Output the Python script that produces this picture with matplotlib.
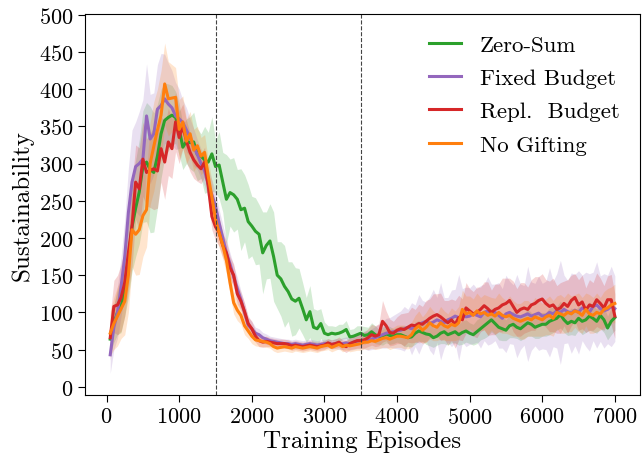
import numpy as np
import matplotlib
matplotlib.use("Agg")
import matplotlib.pyplot as plt

plt.rcParams['font.family'] = 'serif'
plt.rcParams['font.serif'] = ['cmr10', 'DejaVu Serif']
plt.rcParams['axes.formatter.use_mathtext'] = True
plt.rcParams['mathtext.fontset'] = 'cm'

episodes = list(range(50, 7001, 50))

zero_sum = [
    64, 85, 100, 108, 135, 170, 215, 240, 262, 296, 302, 292, 288, 310, 340, 358, 362, 365, 362, 346,
    322, 330, 328, 329, 312, 310, 305, 302, 313, 296, 298, 275, 252, 261, 258, 252, 238, 240, 222, 216,
    209, 205, 180, 190, 196, 175, 150, 145, 135, 128, 118, 115, 119, 105, 90, 101, 80, 78, 85, 72,
    70, 72, 71, 72, 74, 77, 67, 68, 70, 72, 69, 70, 74, 70, 67, 68, 71, 69, 68, 70,
    70, 68, 66, 67, 72, 75, 73, 71, 70, 66, 68, 72, 74, 70, 72, 74, 70, 73, 75, 72,
    70, 74, 78, 82, 86, 90, 85, 80, 78, 76, 82, 84, 80, 78, 82, 86, 84, 80, 82, 84,
    84, 88, 90, 92, 97, 90, 85, 88, 86, 92, 88, 90, 95, 92, 88, 96, 90, 79, 88, 93,
]
zero_sum_err = [
    20, 25, 30, 35, 40, 50, 60, 65, 70, 75, 80, 85, 80, 70, 60, 50, 45, 40, 35, 35,
    30, 30, 35, 40, 35, 30, 45, 40, 50, 35, 45, 40, 60, 45, 50, 40, 55, 45, 50, 40,
    45, 40, 55, 45, 50, 60, 45, 50, 55, 40, 50, 45, 40, 35, 30, 35, 25, 25, 20, 15,
    12, 10, 10, 12, 10, 12, 10, 10, 12, 10, 12, 10, 12, 12, 10, 12, 12, 12, 10, 10,
    12, 14, 12, 13, 15, 14, 12, 14, 15, 13, 12, 14, 16, 14, 13, 15, 14, 16, 15, 14,
    14, 16, 15, 17, 18, 16, 15, 17, 16, 14, 16, 18, 15, 16, 17, 18, 16, 15, 17, 16,
    16, 18, 17, 16, 18, 17, 16, 18, 17, 16, 18, 17, 19, 18, 16, 18, 17, 16, 18, 17,
]

fixed_budget = [
    43, 80, 100, 135, 175, 234, 275, 296, 300, 306, 364, 333, 340, 373, 378, 387, 380, 375, 364, 360,
    355, 345, 335, 322, 312, 300, 290, 272, 258, 243, 220, 200, 180, 165, 148, 132, 117, 100, 83, 78,
    72, 70, 66, 64, 62, 61, 60, 59, 58, 58, 57, 58, 57, 56, 57, 58, 57, 56, 57, 58,
    58, 57, 58, 57, 58, 59, 58, 60, 61, 62, 63, 62, 64, 66, 68, 70, 72, 73, 74, 75,
    76, 78, 80, 78, 82, 84, 86, 88, 85, 87, 90, 88, 86, 90, 92, 95, 93, 96, 94, 95,
    98, 96, 94, 100, 102, 98, 100, 96, 92, 98, 100, 97, 95, 94, 96, 98, 95, 97, 99, 95,
    96, 100, 98, 102, 100, 104, 101, 99, 103, 100, 106, 104, 100, 108, 110, 105, 102, 104, 108, 105,
]
fixed_budget_err = [
    25, 30, 35, 40, 50, 60, 70, 60, 70, 80, 70, 60, 55, 60, 70, 60, 55, 50, 45, 40,
    30, 30, 25, 25, 20, 20, 20, 20, 20, 20, 18, 18, 18, 15, 15, 15, 12, 12, 10, 10,
    8, 8, 7, 7, 6, 6, 6, 6, 6, 6, 6, 6, 6, 6, 6, 6, 6, 6, 6, 6,
    6, 6, 7, 7, 8, 8, 9, 10, 10, 11, 12, 13, 14, 15, 16, 18, 20, 20, 22, 24,
    26, 30, 24, 35, 28, 40, 30, 26, 36, 44, 30, 52, 34, 30, 38, 36, 58, 36, 40, 38,
    40, 36, 42, 38, 46, 40, 38, 44, 40, 52, 42, 40, 56, 44, 40, 64, 46, 42, 50, 44,
    46, 60, 44, 50, 70, 46, 42, 54, 48, 56, 44, 50, 52, 46, 58, 44, 50, 46, 54, 44,
]

repl_budget = [
    66, 108, 110, 120, 140, 180, 216, 275, 266, 306, 288, 291, 293, 290, 320, 302, 329, 320, 356, 335,
    350, 330, 315, 305, 298, 293, 302, 270, 229, 215, 207, 190, 180, 160, 150, 125, 115, 101, 85, 78,
    68, 62, 60, 61, 60, 59, 58, 58, 58, 57, 55, 56, 55, 54, 55, 56, 55, 54, 55, 56,
    59, 57, 58, 60, 56, 54, 58, 60, 62, 62, 63, 66, 70, 68, 70, 88, 82, 73, 72, 76,
    78, 77, 80, 83, 82, 85, 84, 88, 92, 95, 97, 94, 90, 86, 90, 84, 93, 90, 106, 102,
    98, 100, 104, 109, 105, 100, 104, 106, 110, 112, 116, 108, 100, 104, 106, 104, 110, 112, 116, 118,
    112, 108, 110, 104, 106, 112, 108, 116, 120, 110, 114, 103, 110, 108, 117, 112, 106, 117, 117, 95,
]
repl_budget_err = [
    30, 35, 40, 45, 45, 50, 55, 50, 55, 50, 45, 50, 55, 50, 45, 50, 45, 40, 40, 35,
    30, 28, 26, 25, 22, 20, 20, 20, 18, 18, 18, 16, 16, 15, 15, 14, 12, 12, 10, 10,
    8, 8, 7, 7, 6, 6, 6, 6, 6, 6, 6, 6, 6, 6, 6, 6, 6, 6, 6, 6,
    6, 6, 6, 7, 7, 8, 8, 9, 10, 10, 11, 12, 14, 14, 15, 28, 20, 18, 16, 18,
    20, 22, 20, 24, 22, 26, 24, 28, 26, 30, 28, 32, 26, 30, 28, 32, 30, 28, 34, 30,
    30, 34, 30, 32, 36, 30, 34, 32, 36, 34, 30, 34, 32, 36, 34, 30, 34, 36, 32, 34,
    32, 34, 36, 32, 34, 30, 36, 34, 32, 34, 36, 30, 34, 32, 36, 34, 30, 32, 34, 30,
]

no_gifting = [
    72, 85, 95, 105, 115, 150, 211, 205, 211, 230, 238, 300, 323, 345, 365, 407, 387, 388, 389, 346,
    356, 330, 340, 318, 324, 310, 315, 283, 255, 225, 207, 190, 170, 140, 113, 103, 96, 82, 75, 68,
    63, 62, 61, 60, 58, 54, 52, 53, 54, 53, 52, 54, 53, 52, 53, 54, 53, 52, 54, 55,
    56, 53, 55, 57, 54, 56, 55, 56, 57, 58, 60, 60, 62, 61, 63, 65, 66, 64, 66, 68,
    68, 67, 66, 70, 78, 82, 76, 80, 86, 82, 80, 86, 82, 80, 84, 82, 86, 104, 98, 100,
    96, 102, 98, 100, 96, 98, 95, 100, 96, 94, 96, 92, 90, 88, 90, 92, 90, 94, 92, 90,
    94, 96, 92, 100, 98, 96, 100, 98, 102, 100, 96, 104, 98, 96, 100, 98, 104, 106, 110, 112,
]
no_gifting_err = [
    30, 35, 40, 40, 45, 50, 50, 55, 60, 55, 50, 55, 60, 55, 60, 55, 50, 45, 40, 40,
    35, 30, 30, 28, 26, 25, 24, 22, 22, 20, 20, 18, 18, 16, 15, 14, 12, 12, 10, 10,
    8, 8, 7, 7, 6, 6, 6, 6, 6, 6, 6, 6, 6, 6, 6, 6, 6, 6, 6, 6,
    6, 6, 6, 6, 7, 7, 8, 8, 8, 9, 9, 10, 10, 11, 12, 12, 13, 14, 14, 15,
    15, 16, 15, 17, 18, 20, 18, 20, 22, 20, 18, 22, 20, 18, 22, 20, 22, 26, 24, 22,
    22, 24, 22, 24, 26, 22, 24, 26, 24, 22, 26, 24, 22, 24, 26, 24, 22, 26, 24, 22,
    24, 26, 24, 22, 26, 24, 26, 24, 22, 26, 24, 22, 26, 24, 26, 22, 24, 26, 24, 26,
]

series = [
    ("Zero-Sum", zero_sum, zero_sum_err, "tab:green"),
    ("Fixed Budget", fixed_budget, fixed_budget_err, "tab:purple"),
    ("Repl.  Budget", repl_budget, repl_budget_err, "tab:red"),
    ("No Gifting", no_gifting, no_gifting_err, "tab:orange"),
]

fig = plt.figure(figsize=(6.42, 4.64), dpi=100)
ax = fig.add_axes([0.1324, 0.1466, 0.8646, 0.8211])

x = np.array(episodes)
for label, mean, err, color in series:
    m = np.array(mean, dtype=float)
    e = np.array(err, dtype=float)
    ax.fill_between(x, m - e, m + e, color=color, alpha=0.2, linewidth=0)
    ax.plot(x, m, color=color, lw=2.2, label=label)

ax.axvline(1500, color='#444444', ls='--', lw=0.8)
ax.axvline(3500, color='#444444', ls='--', lw=0.8)

ax.set_xlim(-297.5, 7347.5)
ax.set_ylim(-11, 501)
ax.set_xticks(range(0, 7001, 1000))
ax.set_yticks(range(0, 501, 50))
ax.tick_params(labelsize=16, length=5)
ax.set_xlabel("Training Episodes", fontsize=18, labelpad=2)
ax.set_ylabel("Sustainability", fontsize=18, labelpad=4)
ax.legend(loc='upper right', frameon=False, fontsize=16.5, handlelength=1.4,
          handletextpad=0.8, labelspacing=0.58)

fig.savefig("out.png", dpi=100)
